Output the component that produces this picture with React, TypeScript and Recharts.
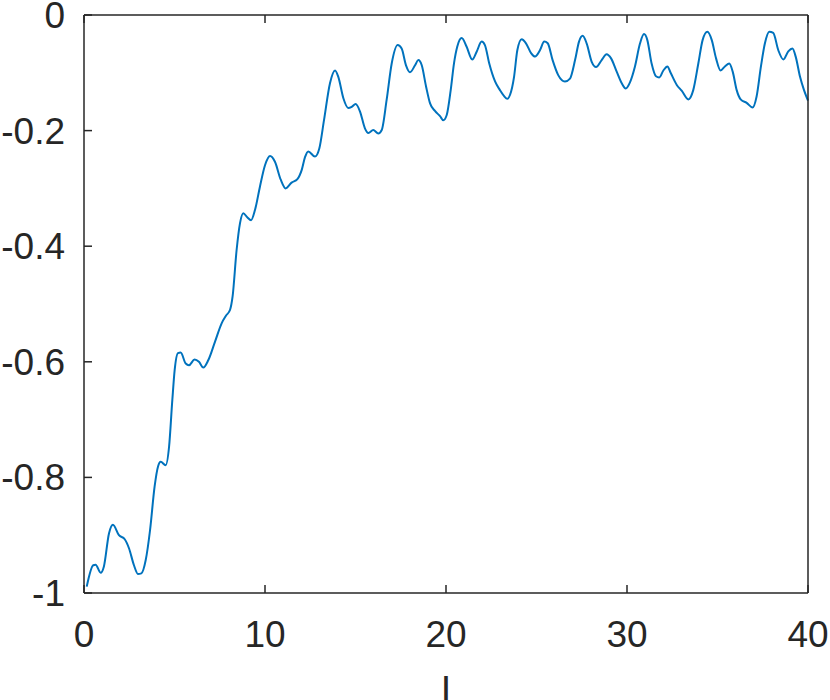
import React from 'react';
import { LineChart, Line, XAxis, YAxis } from 'recharts';

const lValues = [
  0.15, 0.51, 0.64, 0.92, 1.1, 1.38, 1.6, 1.93, 2.25, 2.49, 2.76, 2.98, 3.17, 3.41, 3.65, 3.9, 4.09, 4.24, 4.51, 4.7,
  4.88, 5.01, 5.19, 5.34, 5.62, 5.8, 6.11, 6.35, 6.59, 6.87, 7.24, 7.61, 7.85, 8.07, 8.21, 8.43, 8.62, 8.8, 9.02, 9.23,
  9.45, 9.72, 10.0, 10.28, 10.55, 10.87, 11.14, 11.47, 11.79, 12.03, 12.21, 12.39, 12.76, 13.0, 13.26, 13.59, 13.87, 14.05, 14.33, 14.6,
  14.79, 15.01, 15.25, 15.52, 15.71, 15.98, 16.26, 16.45, 16.72, 17.0, 17.33, 17.55, 17.79, 18.01, 18.29, 18.47, 18.66, 18.9, 19.12, 19.39,
  19.67, 19.85, 20.04, 20.26, 20.44, 20.62, 20.87, 21.14, 21.45, 21.7, 21.97, 22.15, 22.39, 22.71, 22.98, 23.2, 23.39, 23.54, 23.76, 23.94,
  24.18, 24.42, 24.7, 24.92, 25.19, 25.43, 25.62, 25.89, 26.2, 26.57, 26.85, 27.13, 27.35, 27.55, 27.77, 28.05, 28.29, 28.6, 28.87, 29.12,
  29.43, 29.71, 29.93, 30.17, 30.44, 30.72, 30.94, 31.12, 31.36, 31.6, 31.78, 32.01, 32.23, 32.41, 32.75, 33.02, 33.39, 33.66, 33.94, 34.18,
  34.44, 34.68, 34.92, 35.17, 35.41, 35.65, 35.84, 36.06, 36.28, 36.61, 36.94, 37.16, 37.4, 37.62, 37.86, 38.08, 38.36, 38.64, 38.91, 39.14,
  39.32, 39.56, 39.78, 40.0,
];

const yValues = [
  -0.989, -0.952, -0.951, -0.965, -0.954, -0.897, -0.882, -0.9, -0.907, -0.923, -0.952, -0.967, -0.966, -0.943, -0.891, -0.816, -0.781, -0.773, -0.779, -0.747,
  -0.666, -0.614, -0.585, -0.584, -0.603, -0.606, -0.596, -0.6, -0.61, -0.597, -0.565, -0.533, -0.52, -0.51, -0.487, -0.407, -0.36, -0.343, -0.35, -0.355,
  -0.337, -0.297, -0.26, -0.244, -0.254, -0.285, -0.3, -0.29, -0.284, -0.268, -0.246, -0.236, -0.245, -0.231, -0.182, -0.118, -0.096, -0.107, -0.144, -0.161,
  -0.159, -0.154, -0.167, -0.196, -0.204, -0.199, -0.205, -0.199, -0.147, -0.084, -0.052, -0.058, -0.087, -0.099, -0.087, -0.078, -0.087, -0.124, -0.153, -0.166,
  -0.175, -0.182, -0.173, -0.13, -0.084, -0.055, -0.04, -0.055, -0.077, -0.063, -0.046, -0.052, -0.084, -0.115, -0.13, -0.14, -0.145, -0.138, -0.107, -0.061,
  -0.042, -0.049, -0.066, -0.072, -0.061, -0.046, -0.049, -0.078, -0.104, -0.115, -0.11, -0.078, -0.046, -0.036, -0.049, -0.081, -0.09, -0.078, -0.068, -0.075,
  -0.098, -0.118, -0.127, -0.116, -0.089, -0.049, -0.033, -0.043, -0.084, -0.106, -0.108, -0.096, -0.089, -0.1, -0.121, -0.131, -0.146, -0.13, -0.084, -0.043,
  -0.029, -0.043, -0.075, -0.096, -0.089, -0.084, -0.098, -0.13, -0.146, -0.152, -0.16, -0.141, -0.089, -0.049, -0.029, -0.031, -0.061, -0.077, -0.063, -0.058,
  -0.072, -0.107, -0.13, -0.148,
];

const xTicks = [0, 10, 20, 30, 40];
const yTicks = [-1, -0.8, -0.6, -0.4, -0.2, 0];
const xLabel = 'l';

const data = lValues.map((l, i) => ({ l, y: yValues[i] }));

const AX = '#262626';
const FONT = '"Liberation Sans", Arial, Helvetica, sans-serif';
const FS = 37;
const TL = 8;

const BottomTick = (p: any) => (
  <g>
    <line x1={p.x} y1={p.y} x2={p.x} y2={p.y - TL} stroke={AX} strokeWidth={1.5} />
    <text x={p.x} y={p.y + 54} textAnchor="middle" fontSize={FS} fontFamily={FONT} fill={AX}>
      {String(p.payload.value)}
    </text>
  </g>
);
const TopTick = (p: any) => (
  <line x1={p.x} y1={p.y} x2={p.x} y2={p.y + TL} stroke={AX} strokeWidth={1.5} />
);
const LeftTick = (p: any) => (
  <g>
    <line x1={p.x} y1={p.y} x2={p.x + TL} y2={p.y} stroke={AX} strokeWidth={1.5} />
    <text x={p.x - 19} y={p.y + 13} textAnchor="end" fontSize={FS} fontFamily={FONT} fill={AX}>
      {String(p.payload.value)}
    </text>
  </g>
);
const RightTick = (p: any) => (
  <line x1={p.x} y1={p.y} x2={p.x - TL} y2={p.y} stroke={AX} strokeWidth={1.5} />
);

export default function App() {
  return (
    <div style={{ position: 'absolute', left: 0, top: 0, width: 830, height: 700, background: '#fff' }}>
      <LineChart width={830} height={700} data={data} margin={{ top: 0, right: 0, bottom: 0, left: 0 }}>
        <XAxis
          xAxisId="b"
          dataKey="l"
          type="number"
          domain={[0, 40]}
          ticks={xTicks}
          height={107}
          tickSize={0}
          tickMargin={0}
          tickLine={false}
          axisLine={{ stroke: AX, strokeWidth: 1.5 }}
          tick={<BottomTick />}
          interval={0}
          label={{ value: xLabel, position: 'insideBottom', offset: -6, fontSize: 40, fontFamily: FONT, fill: AX }}
        />
        <XAxis
          xAxisId="t"
          orientation="top"
          dataKey="l"
          type="number"
          domain={[0, 40]}
          ticks={xTicks}
          height={15}
          tickSize={0}
          tickMargin={0}
          tickLine={false}
          axisLine={{ stroke: AX, strokeWidth: 1.5 }}
          tick={<TopTick />}
          interval={0}
        />
        <YAxis
          yAxisId="l"
          type="number"
          domain={[-1, 0]}
          ticks={yTicks}
          width={84}
          tickSize={0}
          tickMargin={0}
          tickLine={false}
          axisLine={{ stroke: AX, strokeWidth: 1.5 }}
          tick={<LeftTick />}
          interval={0}
        />
        <YAxis
          yAxisId="r"
          orientation="right"
          type="number"
          domain={[-1, 0]}
          ticks={yTicks}
          width={22}
          tickSize={0}
          tickMargin={0}
          tickLine={false}
          axisLine={{ stroke: AX, strokeWidth: 1.5 }}
          tick={<RightTick />}
          interval={0}
        />
        <Line
          xAxisId="b"
          yAxisId="l"
          dataKey="y"
          type="monotone"
          stroke="#0072BD"
          strokeWidth={2}
          dot={false}
          isAnimationActive={false}
        />
      </LineChart>
    </div>
  );
}
